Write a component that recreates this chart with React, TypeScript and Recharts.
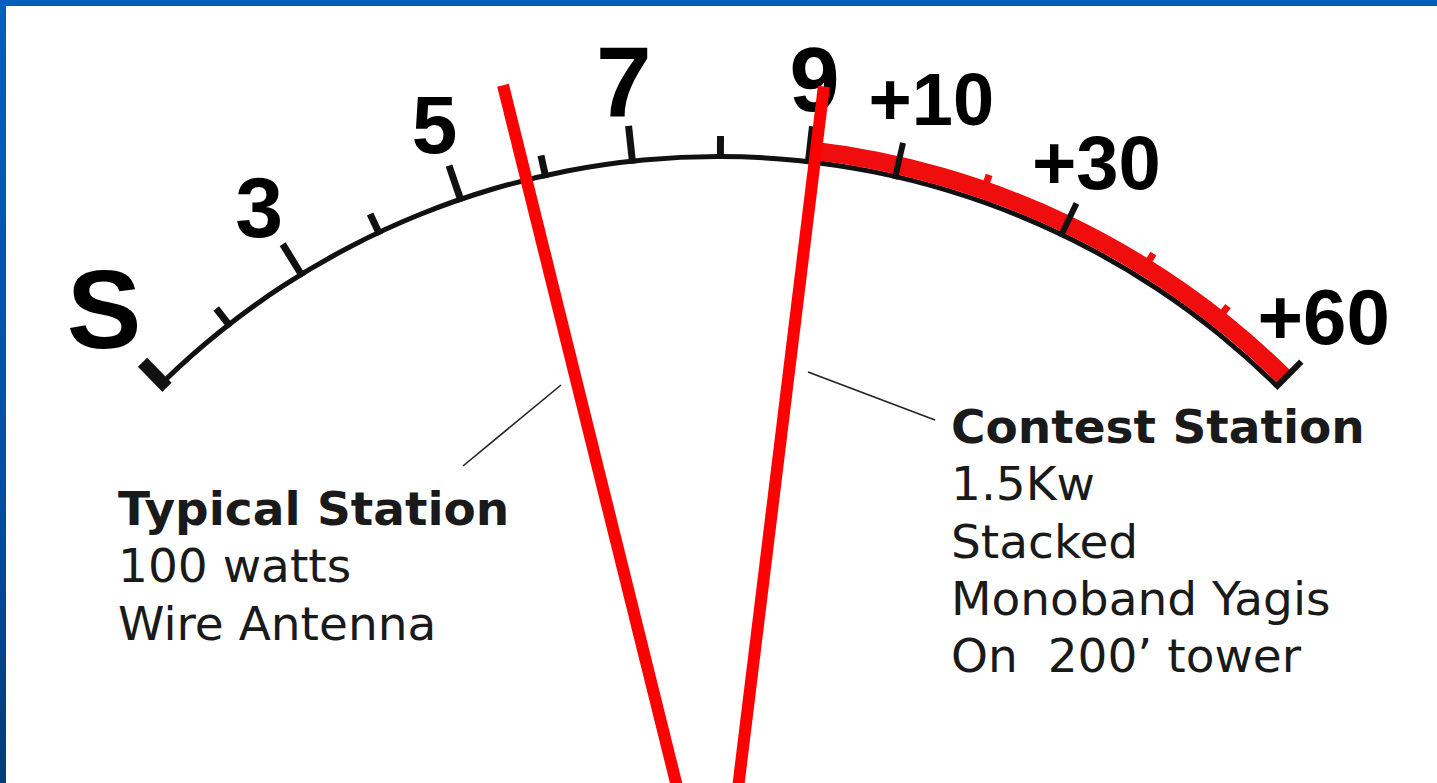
import React from 'react'
import { RadialBarChart, RadialBar, PolarAngleAxis } from 'recharts'

// S-meter scale: one tick per S-unit up to 9, then one per 10 dB over S9
const scaleLabels = ['S', '', '3', '', '5', '', '7', '', '9', '+10', '', '+30', '', '', '+60']
const scaleTicks = scaleLabels.map((_, i) => i)
const overloadFrom = scaleLabels.indexOf('9')
const scaleEnd = scaleTicks.length - 1

// where each station's needle sits on the scale (in S-units from the S mark)
const needleReadings = [4.78, 8.07]

const typicalTitle = 'Typical Station'
const typicalLines = ['100 watts', 'Wire Antenna']
const contestTitle = 'Contest Station'
const contestLines = ['1.5Kw', 'Stacked', 'Monoband Yagis', 'On  200’ tower']

const meterData = [
  { name: 'scale', line: scaleEnd, below: overloadFrom, overload: scaleEnd - overloadFrom },
]

// geometry / style
const W = 1437
const H = 783
const CX = 718
const CY = 952
const R = 795
const RAD = Math.PI / 180
const RED = '#f00d0d'
const INK = '#111'
const LABEL_SIZE: Record<string, number> = { S: 112, '3': 86, '5': 82, '7': 100, '9': 90, '+10': 74, '+30': 76, '+60': 78 }
const LABEL_SHIFT: Record<string, [number, number]> = { S: [-2, -17], '+10': [18, 0], '+60': [-10, -13], '9': [-3, -3] }
const NEEDLE_TIP = [893, 872]

const pt = (cx: number, cy: number, r: number, angle: number) => ({
  x: cx + r * Math.cos(-angle * RAD),
  y: cy + r * Math.sin(-angle * RAD),
})

function MeterTick(props: any) {
  const cx = props.cx ?? CX
  const cy = props.cy ?? CY
  const angle = props.payload.coordinate
  const idx = props.index

  // needles come after the scale ticks so they are painted on top
  if (idx >= scaleTicks.length) {
    const tip = pt(cx, cy, NEEDLE_TIP[idx - scaleTicks.length] ?? 880, angle)
    return <line x1={cx} y1={cy} x2={tip.x} y2={tip.y} stroke="#ff0000" strokeWidth={12} />
  }

  const i = props.payload.value
  const label = scaleLabels[i]
  const major = label !== ''
  const over = i > overloadFrom

  let r0 = R - 2
  let r1 = major ? R + 36 : R + 21
  let width = 7
  let color = INK
  if (i === 0) { r0 = R - 6; r1 = R + 29; width = 13 }
  if (over && !major) { r0 = R + 14; r1 = R + 28; color = RED; width = 7 }
  if (over && major) { r1 = R + 35; width = 6 }

  const a = pt(cx, cy, r0, angle)
  const b = pt(cx, cy, r1, angle)
  const size = LABEL_SIZE[label] || 80
  const c = pt(cx, cy, R + 81, angle)
  const [sx, sy] = LABEL_SHIFT[label] || [0, 0]

  return (
    <g>
      <line x1={a.x} y1={a.y} x2={b.x} y2={b.y} stroke={color} strokeWidth={width} />
      {major && (
        <text
          x={c.x + sx}
          y={c.y + sy + size * 0.36}
          textAnchor="middle"
          fontFamily="'Liberation Sans', Arial, sans-serif"
          fontWeight="bold"
          fontSize={size}
          fill="#000"
        >
          {label}
        </text>
      )}
    </g>
  )
}

function Note({ x, y, title, lines }: { x: number, y: number, title: string, lines: string[] }) {
  const font = "'DejaVu Sans', Verdana, sans-serif"
  return (
    <g fill="#1a1a1a" fontFamily={font} fontSize={47}>
      <text x={x} y={y} fontWeight="bold">{title}</text>
      {lines.map((l, k) => (
        <text key={l} x={x} y={y + 57.3 * (k + 1)} style={{ whiteSpace: 'pre' }}>{l}</text>
      ))}
    </g>
  )
}

export default function App() {
  return (
    <div style={{ position: 'fixed', left: 0, top: 0, width: W, height: H, background: '#fff', overflow: 'hidden' }}>
      <RadialBarChart
        width={W}
        height={H}
        cx={CX}
        cy={CY}
        innerRadius={791}
        outerRadius={818}
        startAngle={134.3}
        endAngle={45.35}
        data={meterData}
        barGap={0}
        margin={{ top: 0, right: 0, bottom: 0, left: 0 }}
      >
        <RadialBar dataKey="line" stackId="line" barSize={5} fill={INK} isAnimationActive={false} />
        <RadialBar dataKey="below" stackId="band" barSize={18} fill="transparent" isAnimationActive={false} />
        <RadialBar dataKey="overload" stackId="band" barSize={18} fill={RED} isAnimationActive={false} />
        <PolarAngleAxis
          type="number"
          domain={[0, scaleEnd]}
          ticks={[...scaleTicks, ...needleReadings]}
          tick={MeterTick}
          tickLine={false}
          axisLine={false}
        />
      </RadialBarChart>

      <svg width={W} height={H} style={{ position: 'absolute', left: 0, top: 0, pointerEvents: 'none' }}>
        <line x1={463} y1={466} x2={561} y2={385} stroke="#222" strokeWidth={1.6} />
        <line x1={808} y1={372} x2={935} y2={420} stroke="#222" strokeWidth={1.6} />
        <Note x={118} y={525} title={typicalTitle} lines={typicalLines} />
        <Note x={951} y={443} title={contestTitle} lines={contestLines} />
      </svg>

      <div style={{ position: 'absolute', left: 0, top: 0, width: W, height: 6, background: '#005fbe' }} />
      <div style={{ position: 'absolute', left: 0, top: 0, width: 6, height: H, background: 'linear-gradient(#005fbe, #0050a8 60%, #003c7c)' }} />
    </div>
  )
}
